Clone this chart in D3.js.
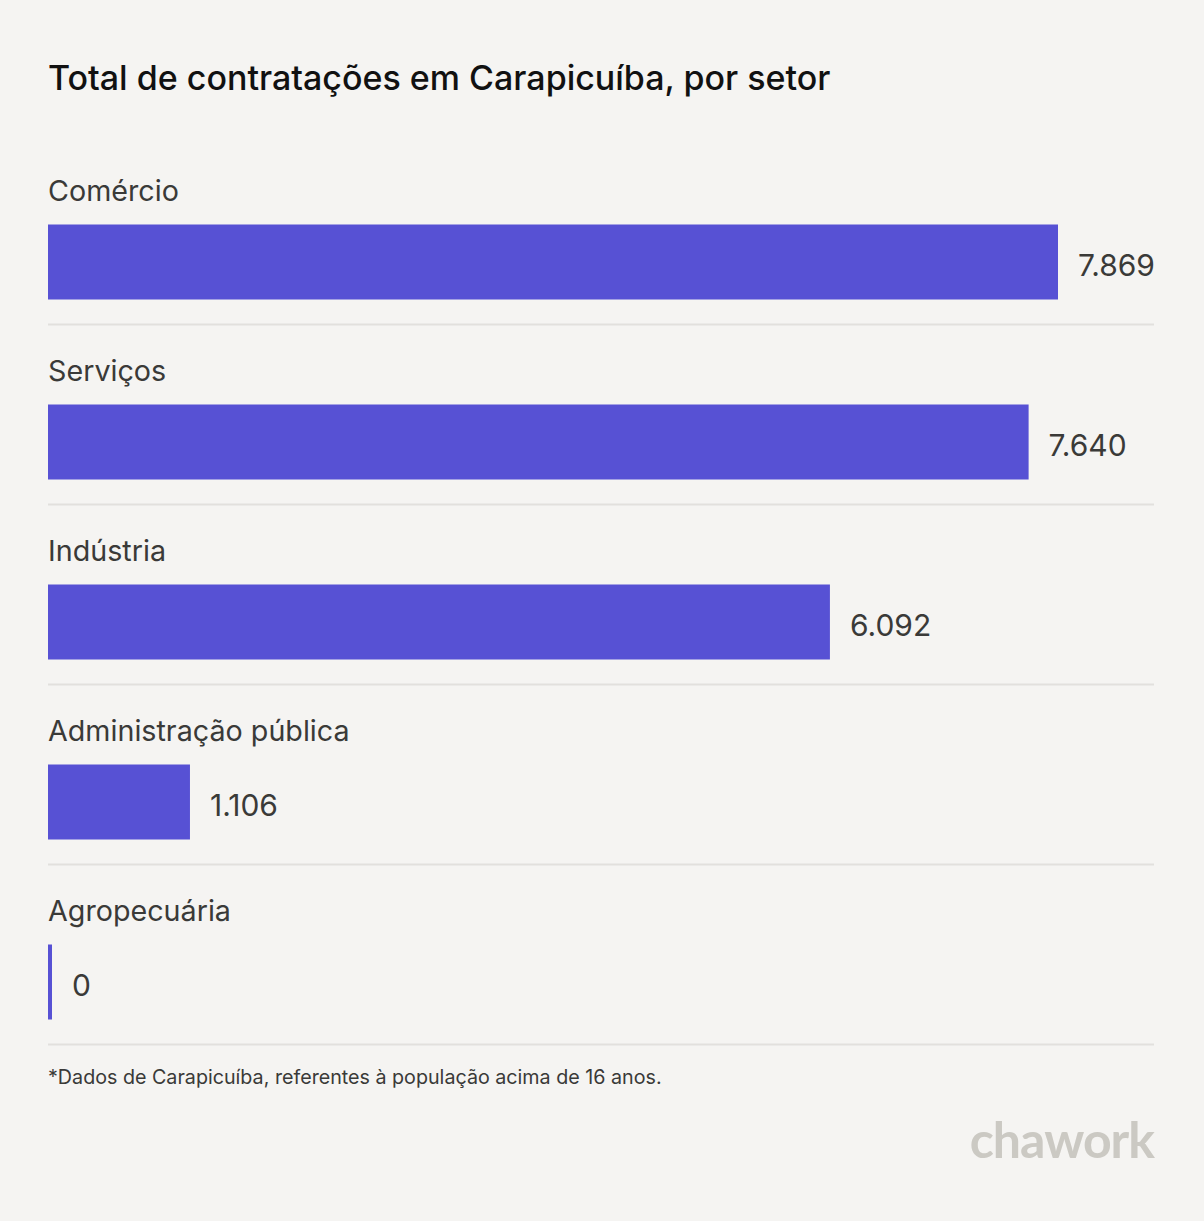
<!DOCTYPE html>
<html><head><meta charset="utf-8">
<script src="https://cdn.jsdelivr.net/npm/d3@7"></script>
<style>
html,body{margin:0;padding:0;background:#f5f4f2;}
svg{display:block;}
</style></head>
<body>
<script>
const categories = ["Comércio", "Serviços", "Indústria", "Administração pública", "Agropecuária"];
const values = [7869, 7640, 6092, 1106, 0];
const valueLabels = ["7.869", "7.640", "6.092", "1.106", "0"];
const title = "Total de contratações em Carapicuíba, por setor";
const footnote = "*Dados de Carapicuíba, referentes à população acima de 16 anos.";
const brand = "chawork";

const W = 1204, H = 1221;
const font = "Inter, 'Noto Sans', sans-serif";
const svg = d3.select("body").append("svg").attr("width", W).attr("height", H);
svg.append("rect").attr("width", W).attr("height", H).attr("fill", "#f5f4f2");

const left = 48, right = 1154;
const x = d3.scaleLinear().domain([0, 7869]).range([0, 1010]);
const y = d3.scaleBand().domain(categories).range([144.5, 1044.5]).paddingInner(0).paddingOuter(0);

svg.append("text").attr("x", left).attr("y", 90).attr("font-family", font)
  .attr("font-size", 34).attr("font-weight", 500).attr("fill", "#111").text(title);

const g = svg.selectAll("g.row").data(categories).join("g").attr("class", "row")
  .attr("transform", d => `translate(0,${y(d)})`);

g.append("text").attr("x", left).attr("y", 56.5).attr("font-family", font)
  .attr("font-size", 28.7).attr("fill", "#3a3a38").text(d => d);

g.append("rect").attr("x", left).attr("y", 80).attr("height", 75)
  .attr("width", (d, i) => Math.max(4, x(values[i]))).attr("fill", "#5751d4");

g.append("text").attr("x", (d, i) => left + Math.max(4, x(values[i])) + 20).attr("y", 131.5)
  .attr("font-family", font).attr("font-size", 30).attr("fill", "#3a3a38")
  .text((d, i) => valueLabels[i]);

g.append("line").attr("x1", left).attr("x2", right).attr("y1", 180).attr("y2", 180)
  .attr("stroke", "#e2e0dd").attr("stroke-width", 2);

svg.append("text").attr("x", left).attr("y", 1084).attr("font-family", font)
  .attr("font-size", 19.7).attr("fill", "#3a3a38").text(footnote);

svg.append("text").attr("x", right).attr("y", 1158).attr("text-anchor", "end")
  .attr("font-family", "Lato, sans-serif").attr("font-weight", 700).attr("font-size", 50)
  .attr("letter-spacing", -1).attr("fill", "#cbc9c3").text(brand);
</script>
</body></html>
